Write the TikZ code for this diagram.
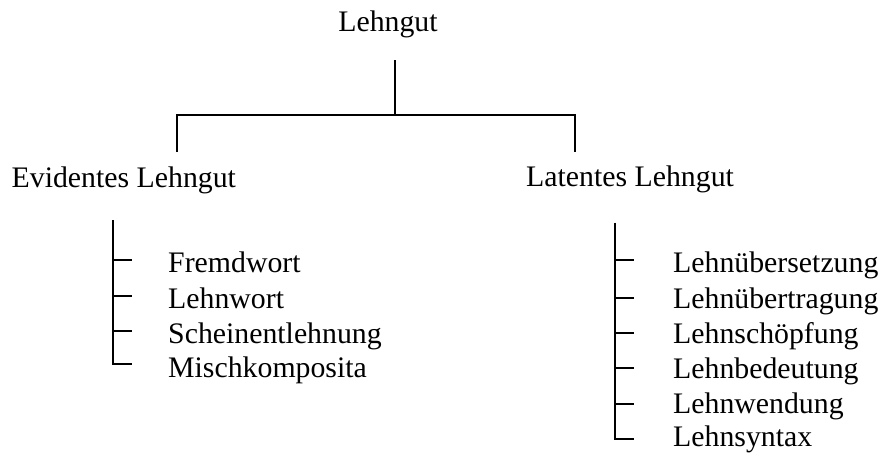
\documentclass[tikz,border=0pt]{standalone}
\usepackage{fontspec}
\setmainfont{Liberation Serif}
\begin{document}
\begin{tikzpicture}[x=1pt,y=-1pt,
  lbl/.style={anchor=base west,inner sep=0pt,font=\fontsize{29.8}{32}\selectfont},
  ln/.style={line width=2pt}]
\useasboundingbox (0,0) rectangle (884,453);
% texts
\node[lbl,anchor=base] (top) at (388,31.7) {Lehngut};
\node[lbl] (ev) at (11.5,187) {Evidentes Lehngut};
\node[lbl] (la) at (526,186) {Latentes Lehngut};
\node[lbl] (e1) at (168,272.7) {Fremdwort};
\node[lbl] (e2) at (168,308.3) {Lehnwort};
\node[lbl] (e3) at (168,343.3) {Scheinentlehnung};
\node[lbl] (e4) at (168,377) {Mischkomposita};
\node[lbl] (r1) at (673,272.7) {Lehnübersetzung};
\node[lbl] (r2) at (673,308.3) {Lehnübertragung};
\node[lbl] (r3) at (673,343.3) {Lehnschöpfung};
\node[lbl] (r4) at (673,378) {Lehnbedeutung};
\node[lbl] (r5) at (673,413) {Lehnwendung};
\node[lbl] (r6) at (673,446.7) {Lehnsyntax};
% top tree
\coordinate (t0) at (394.5,60);
\coordinate (t1) at (394.5,115);
\coordinate (bl) at (177,115);
\coordinate (br) at (575,115);
\coordinate (l0) at (177,152);
\coordinate (q0) at (575,152);
\draw[ln] (t0) -- (t1);
\draw[ln] (l0) -- (bl) -- (br) -- (q0);
% left bracket
\coordinate (lv) at (112.5,220);
\coordinate (lb) at (112.5,363.5);
\coordinate (le) at (132,363.5);
\draw[ln] (lv) -- (lb) -- (le);
\foreach \y in {260,296,331}{\draw[ln] (112.5,\y) -- (132,\y);}
% right bracket
\coordinate (rv) at (615,222.5);
\coordinate (rb) at (615,438.5);
\coordinate (re) at (633.5,438.5);
\draw[ln] (rv) -- (rb) -- (re);
\foreach \y in {259.5,297.5,333.3,368.3,404}{\draw[ln] (615,\y) -- (633.5,\y);}
\end{tikzpicture}
\end{document}
